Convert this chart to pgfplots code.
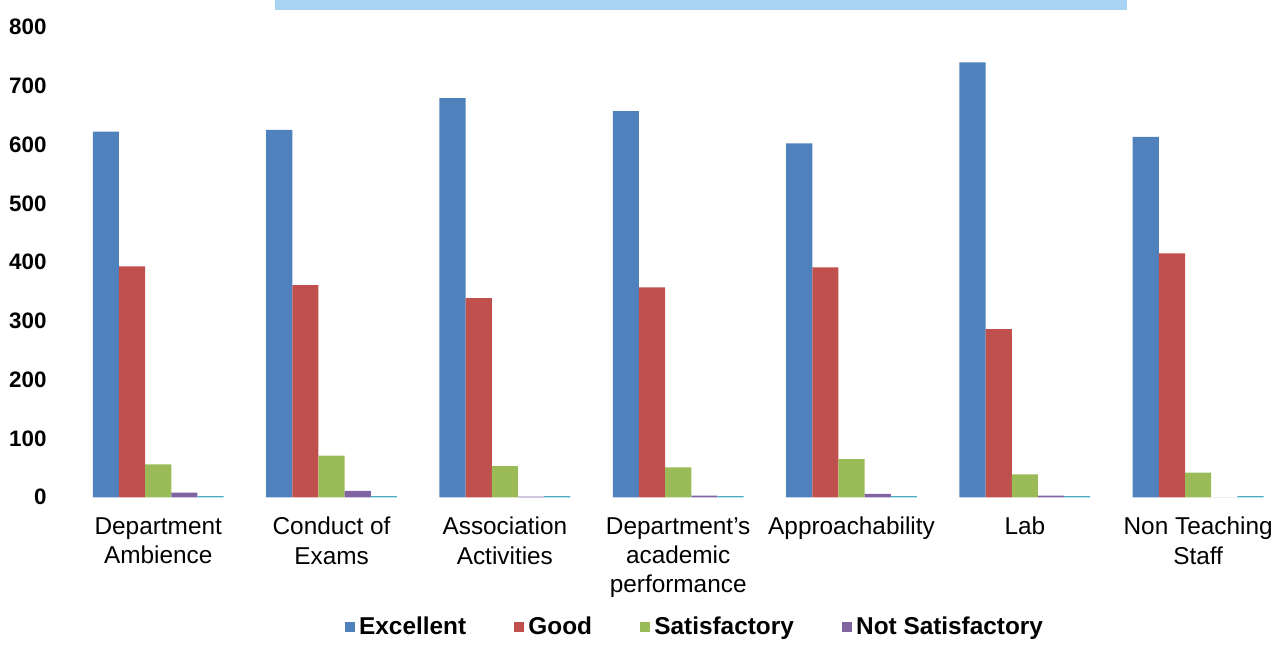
\documentclass[border=0pt]{standalone}
\usepackage{pgfplots}
\pgfplotsset{compat=1.18}
\usepackage{fontspec}
\setmainfont{Liberation Sans}
\definecolor{cBlue}{HTML}{4F81BD}
\definecolor{cRed}{HTML}{C0504D}
\definecolor{cGreen}{HTML}{9BBB59}
\definecolor{cPurple}{HTML}{8064A2}
\definecolor{cAqua}{HTML}{4BACC6}
\definecolor{cTitle}{HTML}{A9D3F3}
\begin{document}
\begin{tikzpicture}
\begin{axis}[
  scale only axis,
  width=607.5pt, height=235.5pt,
  clip=false,
  ybar=0pt, bar width=13.1pt,
  xmin=-0.5, xmax=6.5, ymin=0, ymax=800,
  ytick={0,100,...,800},
  xtick={0,...,6},
  xticklabels={{Department\\Ambience},{Conduct of\\Exams},{Association\\Activities},{Department\char"0027 s\\academic\\performance},{Approachability},{Lab},{Non Teaching\\Staff}},
  xticklabel style={align=center, font=\fontsize{12.2}{14.6}\selectfont, yshift=-6.5pt},
  yticklabel style={font=\fontsize{11.2}{13}\selectfont\bfseries, xshift=-9pt},
  /pgf/number format/assume math mode=true,
  axis line style={draw=none},
  major tick length=0pt,
  legend columns=4,
  legend style={draw=none, fill=none, at={(0.5146,-0.276)}, anchor=center,
    font=\fontsize{12.2}{14}\selectfont\bfseries,
    /tikz/every even column/.append style={column sep=22pt}},
  legend image code/.code={\fill[#1] (0pt,-2.6pt) rectangle (5.2pt,2.6pt);},
]
\addplot[fill=cBlue, draw=none] coordinates {(0,622) (1,625) (2,679) (3,657) (4,602) (5,740) (6,613)};
\addplot[fill=cRed, draw=none] coordinates {(0,393) (1,361) (2,339) (3,357) (4,391) (5,286) (6,415)};
\addplot[fill=cGreen, draw=none] coordinates {(0,56) (1,71) (2,53) (3,51) (4,65) (5,39) (6,42)};
\addplot[fill=cPurple, draw=none] coordinates {(0,8) (1,11) (2,1) (3,3) (4,6) (5,3) (6,0)};
\addplot[fill=cAqua, draw=none] coordinates {(0,2) (1,2) (2,2) (3,2) (4,2) (5,2) (6,2)};
\legend{Excellent,Good,Satisfactory,Not Satisfactory}
\fill[cTitle] (axis cs:0.671,829) rectangle (axis cs:5.59,845.9);
\path (axis cs:-0.913,-242.9) rectangle (axis cs:6.49,845.9);
\end{axis}
\end{tikzpicture}
\end{document}
